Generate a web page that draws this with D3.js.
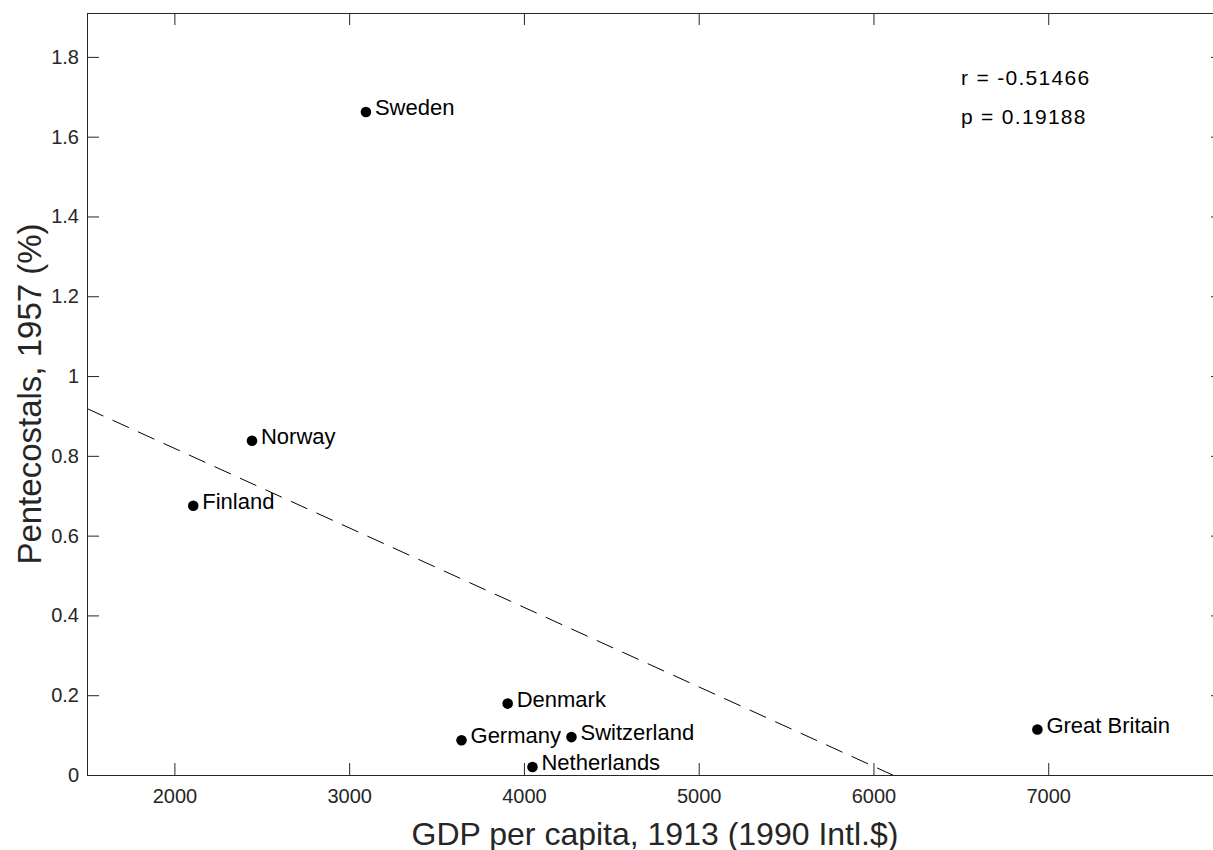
<!DOCTYPE html>
<html>
<head>
<meta charset="utf-8">
<script src="https://cdn.jsdelivr.net/npm/d3@7"></script>
<style>
  body { margin: 0; background: #fff; }
  svg { display: block; font-family: "Liberation Sans", Arial, sans-serif; }
  .tick text { fill: #262626; font-size: 20px; }
  .country { fill: #000; font-size: 22px; }
  .stat { fill: #000; font-size: 21px; letter-spacing: 1.3px; }
  .title { fill: #262626; font-size: 32px; }
</style>
</head>
<body>
<div id="chart"></div>
<script>
// values
var countries = ["Sweden", "Norway", "Finland", "Denmark", "Germany", "Switzerland", "Netherlands", "Great Britain"];
var gdp1913 = [3096, 2444, 2108, 3907, 3643, 4272, 4049, 6938];
var pentecostals1957 = [1.662, 0.838, 0.675, 0.179, 0.087, 0.095, 0.020, 0.114];
var xTicks = [2000, 3000, 4000, 5000, 6000, 7000];
var yTicks = [0, 0.2, 0.4, 0.6, 0.8, 1, 1.2, 1.4, 1.6, 1.8];
var statLines = ["r = -0.51466", "p = 0.19188"];

var width = 1213, height = 850;
var mLeft = 87, mTop = 13, mRight = 1223, mBottom = 775;

var svg = d3.select("#chart").append("svg")
    .attr("width", width)
    .attr("height", height);

var x = d3.scaleLinear().domain([1500, 8000]).range([mLeft, mRight]);
var y = d3.scaleLinear().domain([0, 1.91]).range([mBottom, mTop]);

svg.append("clipPath").attr("id", "plotclip")
  .append("rect")
    .attr("x", mLeft).attr("y", mTop)
    .attr("width", mRight - mLeft).attr("height", mBottom - mTop);

// least squares fit line, from the data
var mx = d3.mean(gdp1913), my = d3.mean(pentecostals1957);
var sxy = d3.sum(gdp1913, function(d, i){ return (d - mx) * (pentecostals1957[i] - my); });
var sxx = d3.sum(gdp1913, function(d){ return (d - mx) * (d - mx); });
var slope = sxy / sxx, icpt = my - slope * mx;
var xd = x.domain();

svg.append("line")
    .attr("clip-path", "url(#plotclip)")
    .attr("x1", x(xd[0])).attr("y1", y(icpt + slope * xd[0]))
    .attr("x2", x(xd[1])).attr("y2", y(icpt + slope * xd[1]))
    .attr("stroke", "#000")
    .attr("stroke-width", 1)
    .attr("stroke-dasharray", "18,10");

// axes, ticks pointing inward
var tickLen = 12;
svg.append("g")
    .attr("transform", "translate(0," + mBottom + ")")
    .call(d3.axisBottom(x).tickValues(xTicks).tickSize(-tickLen).tickPadding(14).tickFormat(d3.format("d")));
svg.append("g")
    .attr("transform", "translate(0," + mTop + ")")
    .call(d3.axisTop(x).tickValues(xTicks).tickSize(-tickLen).tickFormat(""));
svg.append("g")
    .attr("transform", "translate(" + mLeft + ",0)")
    .call(d3.axisLeft(y).tickValues(yTicks).tickSize(-tickLen).tickPadding(8).tickFormat(function(d){ return d3.format("~g")(d); }));
svg.append("g")
    .attr("transform", "translate(" + mRight + ",0)")
    .call(d3.axisRight(y).tickValues(yTicks).tickSize(-tickLen).tickFormat(""));

svg.selectAll(".domain").remove();
svg.selectAll(".tick line").attr("stroke", "#262626");
svg.selectAll("g").attr("font-family", null).attr("font-size", null);

svg.append("rect")
    .attr("x", mLeft + 0.5).attr("y", mTop + 0.5)
    .attr("width", mRight - mLeft).attr("height", mBottom - mTop)
    .attr("fill", "none")
    .attr("stroke", "#262626")
    .attr("stroke-width", 1);

// points and names
var pts = svg.append("g");
pts.selectAll("circle")
  .data(countries)
  .enter().append("circle")
    .attr("cx", function(d, i){ return x(gdp1913[i]); })
    .attr("cy", function(d, i){ return y(pentecostals1957[i]); })
    .attr("r", 5.3)
    .attr("fill", "#000");
pts.selectAll("text")
  .data(countries)
  .enter().append("text")
    .attr("class", "country")
    .attr("x", function(d, i){ return x(gdp1913[i]) + 9; })
    .attr("y", function(d, i){ return y(pentecostals1957[i]) + 3; })
    .text(function(d){ return d; });

svg.selectAll("text.stat")
  .data(statLines)
  .enter().append("text")
    .attr("class", "stat")
    .attr("x", 961)
    .attr("y", function(d, i){ return 85 + i * 38.5; })
    .text(function(d){ return d; });

svg.append("text")
    .attr("class", "title")
    .attr("x", (mLeft + mRight) / 2)
    .attr("y", 845)
    .attr("text-anchor", "middle")
    .text("GDP per capita, 1913 (1990 Intl.$)");

svg.append("text")
    .attr("class", "title")
    .attr("transform", "translate(41," + (mTop + mBottom) / 2 + ") rotate(-90)")
    .attr("text-anchor", "middle")
    .style("font-size", "33px")
    .text("Pentecostals, 1957 (%)");
</script>
</body>
</html>
